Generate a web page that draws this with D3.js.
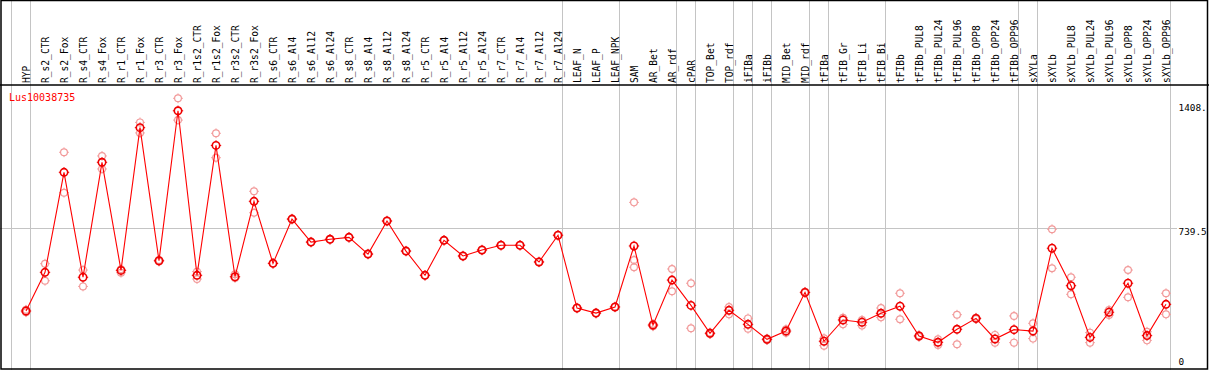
<!DOCTYPE html>
<html><head><meta charset="utf-8">
<script src="https://cdn.jsdelivr.net/npm/d3@7"></script>
<style>body{margin:0;background:#fff}svg{display:block}</style>
</head><body>
<script>
const categories = ["HYP","R_s2_CTR","R_s2_Fox","R_s4_CTR","R_s4_Fox","R_r1_CTR","R_r1_Fox","R_r3_CTR","R_r3_Fox","R_r1s2_CTR","R_r1s2_Fox","R_r3s2_CTR","R_r3s2_Fox","R_s6_CTR","R_s6_Al4","R_s6_Al12","R_s6_Al24","R_s8_CTR","R_s8_Al4","R_s8_Al12","R_s8_Al24","R_r5_CTR","R_r5_Al4","R_r5_Al12","R_r5_Al24","R_r7_CTR","R_r7_Al4","R_r7_Al12","R_r7_Al24","LEAF_N","LEAF_P","LEAF_NPK","SAM","AR_Bet","AR_rdf","cPAR","TOP_Bet","TOP_rdf","iFIBa","iFIBb","MID_Bet","MID_rdf","tFIBa","tFIB_Gr","tFIB_Li","tFIB_Bi","tFIBb","tFIBb_PUL8","tFIBb_PUL24","tFIBb_PUL96","tFIBb_OPP8","tFIBb_OPP24","tFIBb_OPP96","sXYLa","sXYLb","sXYLb_PUL8","sXYLb_PUL24","sXYLb_PUL96","sXYLb_OPP8","sXYLb_OPP24","sXYLb_OPP96"];
const means = [269,489,1058,461,1115,500,1312,555,1408,472,1211,464,893,
  540,792,661,677,688,593,781,610,472,671,582,616,643,643,548,700,
  286,257,292,
  639,189,445,301,142,273,193,108,155,375,97,218,205,256,296,
  127,91,165,227,110,163,155,626,413,119,262,427,129,307];
const rep1 = [276,538,1172,502,1151,506,1342,559,1479,493,1280,478,950,
  540,792,661,677,688,593,781,610,472,671,582,616,643,643,548,700,
  286,257,292,
  887,195,508,427,147,292,227,112,165,378,114,231,218,286,370,
  131,108,248,231,133,241,199,734,461,146,275,502,151,370];
const rep2 = [262,441,942,409,1077,487,1282,550,1355,451,1141,457,828,
  540,792,661,677,688,593,781,610,472,671,582,616,643,643,548,700,
  286,257,292,
  518,182,381,171,138,250,168,104,146,372,72,193,186,233,222,
  122,76,80,223,89,89,112,512,364,89,246,347,102,250];
const rep3 = {"SAM": 559};
const groupEnds = ["HYP","R_r7_Al24","LEAF_NPK","AR_rdf","cPAR","TOP_rdf","iFIBa","iFIBb","MID_rdf","tFIBa","tFIB_Bi","tFIBb_OPP96","sXYLa","sXYLb_OPP96"];
const tickValues = [0, 739.5, 1408];
const tickLabels = ["0", "739.5", "1408."];
const geneName = "Lus10038735";
const maxRep = 1479;

const W = 1209, H = 370;
const svg = d3.select("body").append("svg").attr("width", W).attr("height", H);
const x = d3.scalePoint().domain(categories).range([26, 1166]);
const y = d3.scaleLinear().domain([0, maxRep]).range([358.3, 98.3]);
const font = "'DejaVu Sans Mono', monospace";

// separators
const seps = [x(categories[0]) - 19 + 4.5].concat(groupEnds.map(c => x(c) + 4.5));
svg.selectAll("line.sep").data(seps).enter().append("line")
  .attr("x1", d => d).attr("x2", d => d).attr("y1", 0).attr("y2", H)
  .attr("stroke", "#c4c4c4").attr("stroke-width", 1).attr("shape-rendering", "crispEdges");
// half line
svg.append("line").attr("x1", 0).attr("x2", 1177).attr("y1", y(maxRep / 2)).attr("y2", y(maxRep / 2))
  .attr("stroke", "#c4c4c4").attr("stroke-width", 1).attr("shape-rendering", "crispEdges");

// borders
const bc = "#000";
svg.append("rect").attr("x", 1).attr("y", 0.5).attr("width", W - 2.5).attr("height", H - 1.5)
  .attr("fill", "none").attr("stroke", bc).attr("stroke-width", 1.5);
svg.append("line").attr("x1", 0).attr("x2", W).attr("y1", 85).attr("y2", 85)
  .attr("stroke", bc).attr("stroke-width", 1.5);

// column labels
svg.selectAll("text.col").data(categories).enter().append("text")
  .attr("transform", d => `translate(${x(d) + 4},83) rotate(-90)`)
  .attr("font-family", font).attr("font-size", "9.6px").attr("fill", "#000")
  .text(d => d);

// y labels
svg.selectAll("text.yt").data(tickValues).enter().append("text")
  .attr("x", 1178.5).attr("y", (d, i) => y(d) + (i === 2 ? 0.5 : 6.8))
  .attr("font-family", font).attr("font-size", "9.4px").attr("fill", "#000")
  .text((d, i) => tickLabels[i]);

svg.append("text").attr("x", 9).attr("y", 101).attr("font-family", font)
  .attr("font-size", "10px").attr("fill", "#ff0000").text(geneName);

function marker(g, cx, cy, color, sw, r) {
  g.append("circle").attr("cx", cx).attr("cy", cy).attr("r", r)
    .attr("fill", "none").attr("stroke", color).attr("stroke-width", sw);
  [[0,-1],[0,1],[-1,0],[1,0]].forEach(([dx, dy]) => {
    g.append("line").attr("x1", cx + dx * r).attr("y1", cy + dy * r)
      .attr("x2", cx + dx * (r + 1.5)).attr("y2", cy + dy * (r + 1.5))
      .attr("stroke", color).attr("stroke-width", 1);
  });
}

// replicates
const reps = svg.append("g");
categories.forEach((c, i) => {
  const vals = [rep1[i], rep2[i]];
  if (rep3[c] !== undefined) vals.push(rep3[c]);
  vals.forEach(v => marker(reps, x(c), y(v), "#f29a9a", 1.2, 3.4));
});

// line
const line = d3.line().x((d, i) => x(categories[i])).y(d => y(d));
svg.append("path").datum(means).attr("d", line).attr("fill", "none")
  .attr("stroke", "#ff0000").attr("stroke-width", 1.1);

const mg = svg.append("g");
categories.forEach((c, i) => marker(mg, x(c), y(means[i]), "#ee0000", 1.6, 3.7));
</script>
</body></html>
